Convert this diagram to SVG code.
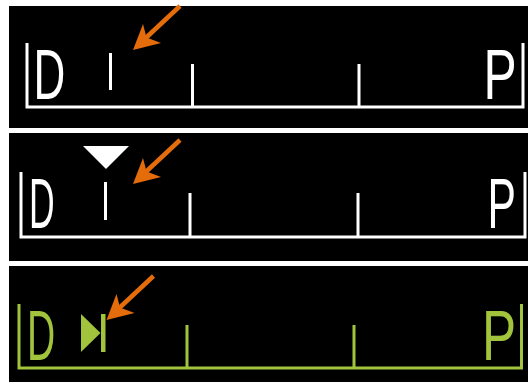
<svg xmlns="http://www.w3.org/2000/svg" width="528" height="382" viewBox="0 0 528 382">
<style>
.w{stroke:#ffffff;fill:none;stroke-width:3}
.g{stroke:#a2c43c;fill:none;stroke-width:3}
.lw{fill:#ffffff;font-family:"Liberation Sans",Arial,sans-serif;font-size:71px}
.lg{fill:#a2c43c;font-family:"Liberation Sans",Arial,sans-serif;font-size:71px}
.bg{fill:#000000}
</style>
<defs>
<g id="arrow">
<line x1="9" y1="-8.5" x2="47" y2="-44" stroke="#e46c0a" stroke-width="4.5"/>
<path d="M0,0 L10,-26 L13.5,-12.5 L28,-7 Z" fill="#e46c0a"/>
</g>
</defs>
<rect x="0" y="0" width="528" height="382" fill="#ffffff"/>
<rect class="bg" x="9" y="6" width="519" height="122"/>
<rect class="bg" x="9" y="133" width="519" height="128"/>
<rect class="bg" x="9" y="266" width="519" height="116"/>

<g id="panel1">
<path class="w" d="M27,43 V107 H523 V43"/>
<path class="w" d="M192.5,64 V107 M359,64 V107 M110.5,53 V90"/>
<text class="lw" transform="translate(33.5,99) scale(0.62,1)">D</text>
<text class="lw" transform="translate(483.5,99) scale(0.7,1)">P</text>
</g>

<g id="panel2">
<path class="w" d="M21,172 V237 H525 V172"/>
<path class="w" d="M190,193 V237 M358,193 V237"/>
<path class="w" d="M105.5,182 V220" stroke-width="3.5"/>
<polygon points="83,146 129,146 106,169" fill="#ffffff"/>
<text class="lw" transform="translate(29,228) scale(0.5,1)">D</text>
<text class="lw" transform="translate(487.5,228) scale(0.6,1)">P</text>
</g>

<g id="panel3">
<path class="g" d="M19,304 V368 H521.5 V304"/>
<path class="g" d="M187,325 V368 M354,325 V368"/>
<polygon points="81,314 100.5,333 81,352" fill="#a2c43c"/>
<rect x="101" y="314" width="4.5" height="38" fill="#a2c43c"/>
<text class="lg" transform="translate(27,360) scale(0.55,1)">D</text>
<text class="lg" transform="translate(482,360) scale(0.72,1)">P</text>
</g>

<g id="connectors">
<use href="#arrow" x="133" y="50"/>
<use href="#arrow" x="133" y="184"/>
<use href="#arrow" x="106.5" y="320"/>
</g>
</svg>
